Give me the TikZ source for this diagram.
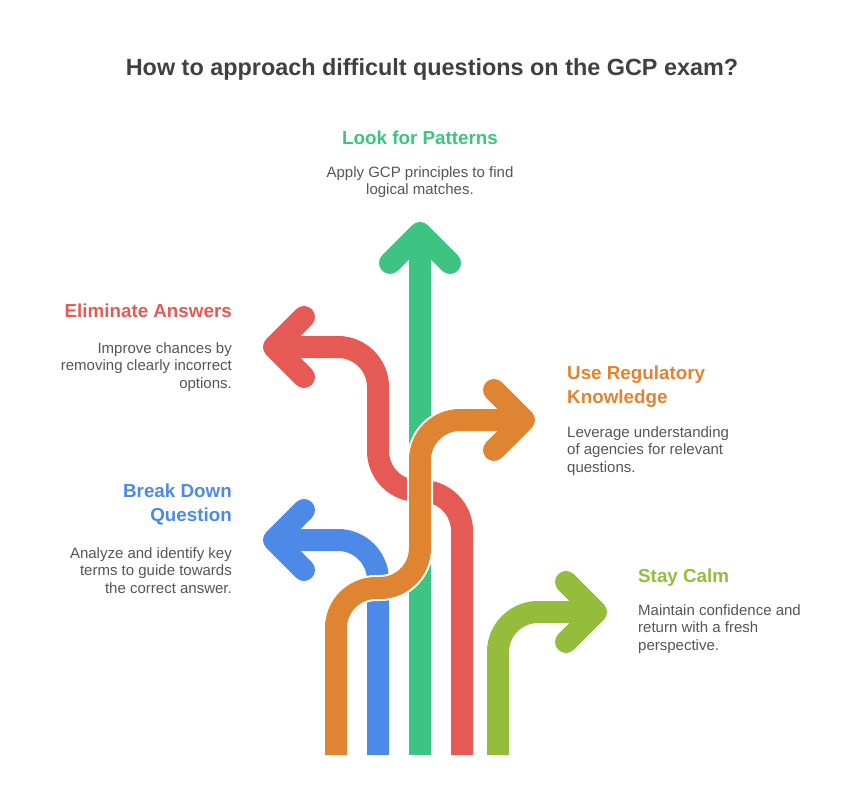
\documentclass[tikz,border=0pt]{standalone}
\usepackage{fontspec}
\setmainfont{Liberation Sans}

\definecolor{pattgreen}{HTML}{3DC482}
\definecolor{elimred}{HTML}{E55A54}
\definecolor{regorange}{HTML}{DF8431}
\definecolor{breakblue}{HTML}{4D89E6}
\definecolor{calmlime}{HTML}{93BD3B}
\definecolor{titlegray}{HTML}{404040}
\definecolor{bodygray}{HTML}{555555}

\tikzset{
  route/.style={line width=22pt, rounded corners=40pt, preaction={draw=white, line width=26pt}},
  arrowhead/.style={line width=22pt, line cap=round, line join=round},
  heading/.style={font=\bfseries\fontsize{18.8}{24}\selectfont, inner sep=0pt},
  bodytext/.style={font=\fontsize{15}{17.8}\selectfont, text=bodygray, inner sep=0pt}
}

\begin{document}
\begin{tikzpicture}[x=1pt, y=-1pt]
            \useasboundingbox (0,0) rectangle (864,805);

            \node[font=\bfseries\fontsize{23.4}{28}\selectfont, text=titlegray, inner sep=0pt, anchor=north] (title) at (432,58) {How to approach difficult questions on the GCP exam?};

            % arrows, lowest layer first
            \draw[route, pattgreen] (420,755) -- (420,233);
            \draw[arrowhead, pattgreen] (390,263) -- (420,233) -- (450,263);

            \draw[route, elimred] (462,755) -- (462,491) -- (378,491) -- (378,347) -- (274,347);
            \draw[arrowhead, elimred] (304,317) -- (274,347) -- (304,377);

            \draw[route, breakblue] (378,755) -- (378,540) -- (274,540);
            \draw[arrowhead, breakblue] (304,510) -- (274,540) -- (304,570);

            \draw[route, calmlime] (498,755) -- (498,612) -- (596,612);
            \draw[arrowhead, calmlime] (566,582) -- (596,612) -- (566,642);

            \draw[route, regorange] (336,755) -- (336,588) -- (420,588) -- (420,420) -- (524,420);
            \draw[arrowhead, regorange] (494,390) -- (524,420) -- (494,450);

            % labels
            \node[heading, text=pattgreen, anchor=north] (pattHead) at (420,131) {Look for Patterns};
            \node[bodytext, align=center, anchor=north] (pattText) at (420,166) {Apply GCP principles to find\\logical matches.};

            \node[heading, text=elimred, anchor=north east] (elimHead) at (232,304) {Eliminate Answers};
            \node[bodytext, align=right, anchor=north east] (elimText) at (232,342) {Improve chances by\\removing clearly incorrect\\options.};

            \node[heading, text=regorange, align=left, anchor=north west] (regHead) at (567,366) {Use Regulatory\\Knowledge};
            \node[bodytext, align=left, anchor=north west] (regText) at (567,426) {Leverage understanding\\of agencies for relevant\\questions.};

            \node[heading, text=breakblue, align=right, anchor=north east] (breakHead) at (232,484) {Break Down\\Question};
            \node[bodytext, align=right, anchor=north east] (breakText) at (232,547) {Analyze and identify key\\terms to guide towards\\the correct answer.};

            \node[heading, text=calmlime, anchor=north west] (calmHead) at (638,569) {Stay Calm};
            \node[bodytext, align=left, anchor=north west] (calmText) at (638,604) {Maintain confidence and\\return with a fresh\\perspective.};
\end{tikzpicture}
\end{document}
